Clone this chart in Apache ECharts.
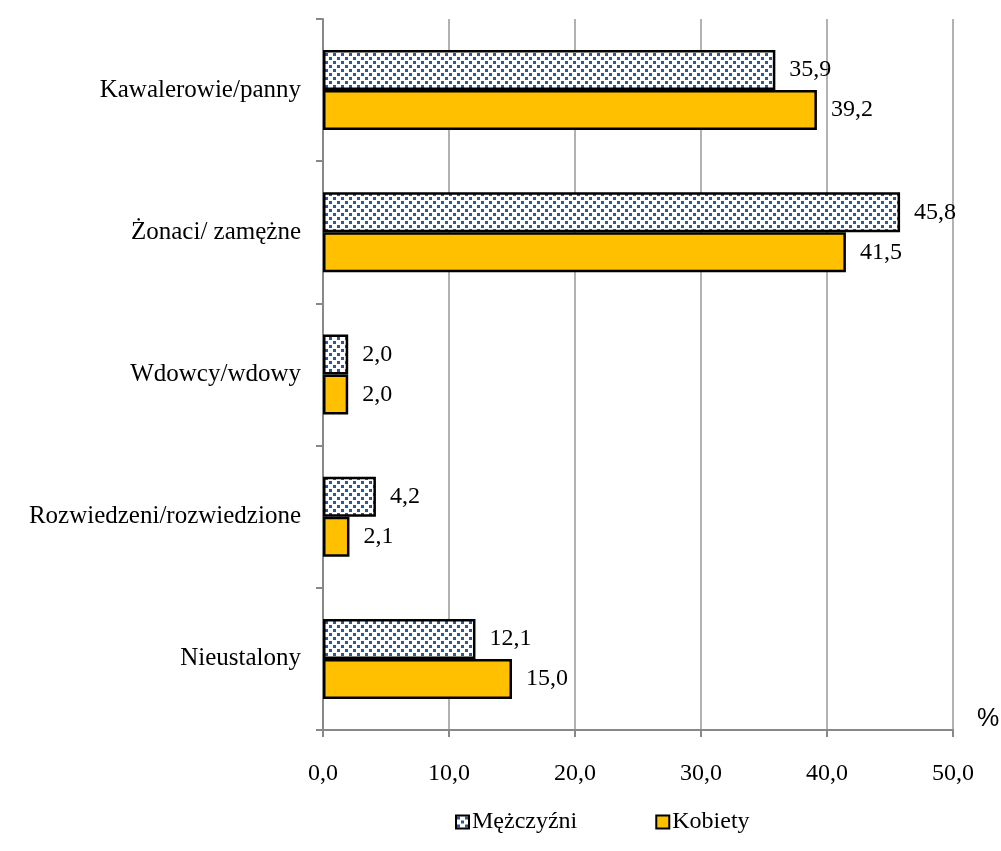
<!DOCTYPE html>
<html><head><meta charset="utf-8">
<script src="https://cdn.jsdelivr.net/npm/echarts@6/dist/echarts.min.js"></script>
<style>html,body{margin:0;padding:0;background:#fff}#c{width:1001px;height:851px}</style>
</head><body><div id="c"></div>
<script>
const categories = ['Kawalerowie/panny', 'Żonaci/ zamężne', 'Wdowcy/wdowy', 'Rozwiedzeni/rozwiedzione', 'Nieustalony'];
const men = [35.9, 45.8, 2.0, 4.2, 12.1];
const women = [39.2, 41.5, 2.0, 2.1, 15.0];
const seriesNames = ['Mężczyźni', 'Kobiety'];

const pc = document.createElement('canvas');
pc.width = 8; pc.height = 8;
const g = pc.getContext('2d');
g.fillStyle = '#fff'; g.fillRect(0,0,8,8);
g.fillStyle = '#2b5a96';
g.fillRect(1,1,3,3);
g.fillRect(5,5,3,3);
const pattern = {image: pc, repeat: 'repeat'};

const serif = '"Liberation Serif", "Times New Roman", serif';
const fmt = v => v.toFixed(1).replace('.', ',');
const chart = echarts.init(document.getElementById('c'));
chart.setOption({
  animation: false,
  title: {text: '%', left: 977, top: 707, padding: 0,
    textStyle: {fontFamily: '"Liberation Sans", Arial, sans-serif', fontSize: 25, fontWeight: 'normal', color: '#000'}},
  grid: {left: 323, right: 48, top: 19, bottom: 121},
  legend: {
    bottom: 12, left: 450, itemGap: 78, itemWidth: 13, itemHeight: 13, icon: 'rect',
    textStyle: {fontFamily: serif, fontSize: 24, color: '#000', padding: [0,0,0,-2]},
    data: seriesNames
  },
  xAxis: {
    type: 'value', min: 0, max: 50, interval: 10,
    axisLine: {show: true, lineStyle: {color: '#888', width: 2}},
    axisTick: {show: true, length: 7, lineStyle: {color: '#888', width: 2}},
    splitLine: {lineStyle: {color: '#999', width: 1.5}},
    axisLabel: {formatter: v => fmt(v), fontFamily: serif, fontSize: 24, color: '#000', margin: 32}
  },
  yAxis: {
    type: 'category', inverse: true, data: categories,
    axisLine: {lineStyle: {color: '#888', width: 2}},
    axisTick: {show: true, length: 7, lineStyle: {color: '#888', width: 2}},
    axisLabel: {fontFamily: serif, fontSize: 25, color: '#000', margin: 22}
  },
  series: [
    {name: seriesNames[0], type: 'bar', data: men, barWidth: 40, barGap: '0%',
     itemStyle: {color: pattern, borderColor: '#000', borderWidth: 2.5},
     label: {show: true, position: 'right', distance: 14, formatter: p => fmt(p.value), fontFamily: serif, fontSize: 24, color: '#000'}},
    {name: seriesNames[1], type: 'bar', data: women, barWidth: 40,
     itemStyle: {color: '#FFC000', borderColor: '#000', borderWidth: 2.5},
     label: {show: true, position: 'right', distance: 14, formatter: p => fmt(p.value), fontFamily: serif, fontSize: 24, color: '#000'}}
  ]
});
</script></body></html>
